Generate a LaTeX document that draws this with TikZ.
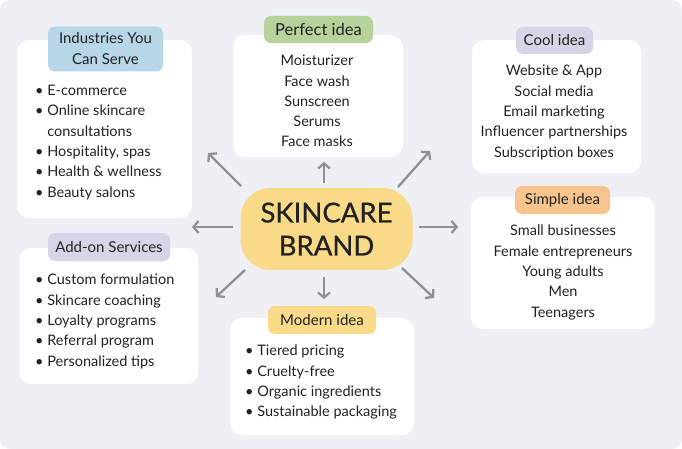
\documentclass[tikz,border=0pt]{standalone}
\usepackage{fontspec}
\setmainfont{Lato}
\newfontfamily\centerfont{Lato}[FakeBold=0.7]
\usetikzlibrary{arrows.meta}
\definecolor{bg}{HTML}{EEF0F5}
\definecolor{lblue}{HTML}{B7D7E8}
\definecolor{lgreen}{HTML}{B8D29B}
\definecolor{llav}{HTML}{D6D4E6}
\definecolor{lorange}{HTML}{F6C48C}
\definecolor{lyellow}{HTML}{F8DA88}
\definecolor{arrowgray}{HTML}{8C9196}
\definecolor{txt}{HTML}{222222}
\tikzset{
  card/.style={fill=white, rounded corners=12pt, inner sep=0pt},
  tag/.style={rounded corners=7pt, inner sep=0pt, text=txt, font=\fontsize{15}{20}\selectfont, align=center},
  items/.style={text=txt, font=\fontsize{14.5}{20.3}\selectfont, inner sep=0pt},
  spoke/.style={draw=arrowgray, line width=2.3pt, -{Straight Barb[length=5pt,width=12pt]}},
}
\begin{document}
\begin{tikzpicture}[x=1pt,y=-1pt]
\useasboundingbox (0,0) rectangle (682,449);
\fill[bg, rounded corners=10pt] (0,0) rectangle (682,449);

% cards
\node[card, minimum width=175pt, minimum height=178pt] (indcard) at (104.5,129) {};
\node[tag, fill=lblue, minimum width=115pt, minimum height=45pt, font=\fontsize{15}{21}\selectfont] (indtag) at (105.5,49) {Industries You\\Can Serve};
\node[items, anchor=north west, align=left] (indlist) at (35,85) {%
• E-commerce\\
• Online skincare\\
\hphantom{• }consultations\\
• Hospitality, spas\\
• Health \& wellness\\
• Beauty salons};

\node[card, minimum width=170pt, minimum height=122pt] (perfcard) at (318,96) {};
\node[tag, fill=lgreen, minimum width=109pt, minimum height=27pt, font=\fontsize{16.5}{20}\selectfont] (perftag) at (318.5,29.5) {Perfect idea};
\node[items, anchor=north, align=center] (perflist) at (317,55) {%
Moisturizer\\Face wash\\Sunscreen\\Serums\\Face masks};

\node[card, minimum width=169pt, minimum height=133pt] (coolcard) at (556.5,106.5) {};
\node[tag, fill=llav, minimum width=77pt, minimum height=27pt] (cooltag) at (554.5,40.5) {Cool idea};
\node[items, anchor=north, align=center] (coollist) at (554,65) {%
Website \& App\\Social media\\Email marketing\\Influencer partnerships\\Subscription boxes};

\node[card, minimum width=184pt, minimum height=132pt] (simpcard) at (563,263) {};
\node[tag, fill=lorange, minimum width=95pt, minimum height=28pt] (simptag) at (562.5,200) {Simple idea};
\node[items, anchor=north, align=center] (simplist) at (563,225) {%
Small businesses\\Female entrepreneurs\\Young adults\\Men\\Teenagers};

\node[card, minimum width=179pt, minimum height=136pt] (addcard) at (108.5,316) {};
\node[tag, fill=llav, minimum width=122pt, minimum height=28pt] (addtag) at (109,247) {Add-on Services};
\node[items, anchor=north west, align=left] (addlist) at (35,274) {%
• Custom formulation\\
• Skincare coaching\\
• Loyalty programs\\
• Referral program\\
• Personalized tips};

\node[card, minimum width=184pt, minimum height=117pt] (modcard) at (322,376.5) {};
\node[tag, fill=lyellow, minimum width=108pt, minimum height=28pt] (modtag) at (322,320) {Modern idea};
\node[items, anchor=north west, align=left] (modlist) at (245,345) {%
• Tiered pricing\\
• Cruelty-free\\
• Organic ingredients\\
• Sustainable packaging};

% center
\node[fill=lyellow, rounded corners=30pt, minimum width=172pt, minimum height=82pt, inner sep=0pt,
      text=txt, align=center, font=\centerfont\fontsize{27.5}{33}\selectfont] (center) at (326.5,229) {SKINCARE\\BRAND};

% spoke coordinates
\coordinate (s1) at (241,186); \coordinate (t1) at (208,153);
\coordinate (s2) at (324,183); \coordinate (t2) at (324,162);
\coordinate (s3) at (398,187); \coordinate (t3) at (430,151);
\coordinate (s4) at (233,227); \coordinate (t4) at (192,227);
\coordinate (s5) at (419,227); \coordinate (t5) at (458,227);
\coordinate (s6) at (245,270); \coordinate (t6) at (216,297);
\coordinate (s7) at (324,277); \coordinate (t7) at (324,299);
\coordinate (s8) at (402,268); \coordinate (t8) at (434,298);
\foreach \i in {1,...,8} {\draw[spoke] (s\i) -- (t\i);}
\end{tikzpicture}
\end{document}
